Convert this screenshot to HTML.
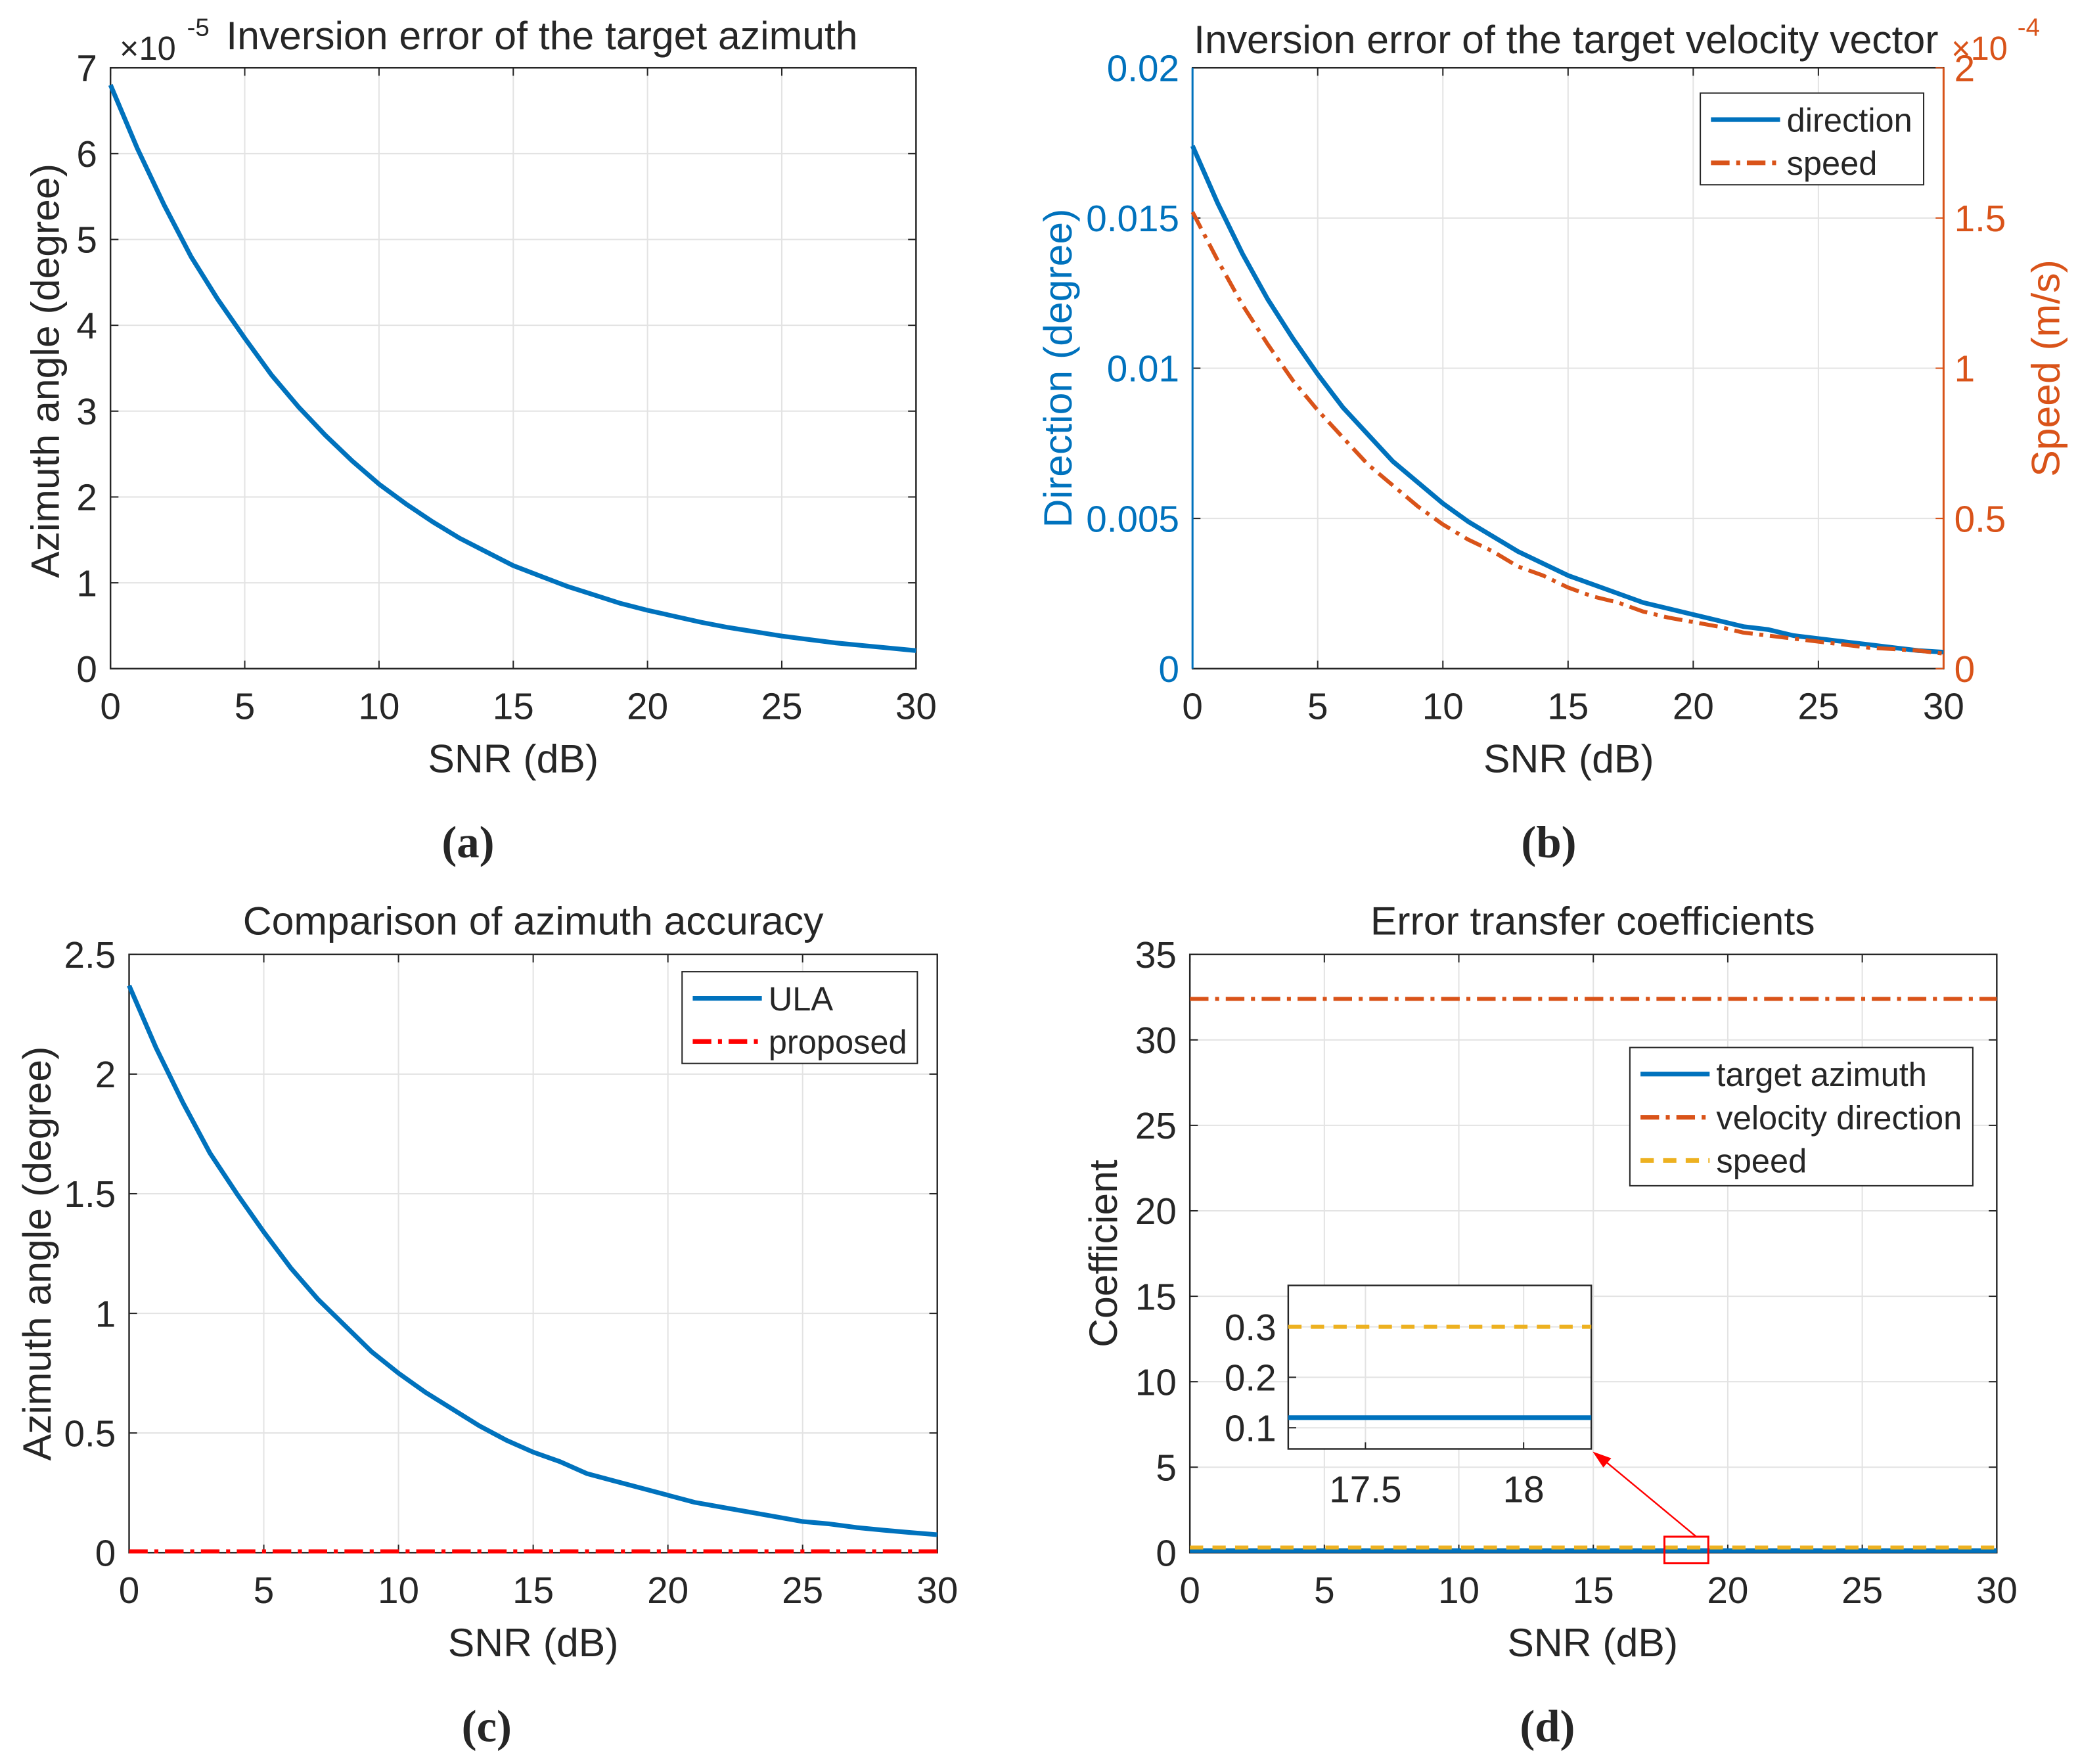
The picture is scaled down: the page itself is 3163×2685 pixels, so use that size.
<!DOCTYPE html>
<html><head><meta charset="utf-8"><style>
html,body{margin:0;padding:0;background:#fff}
svg{display:block}
text{font-family:"Liberation Sans",Arial,sans-serif;fill:#262626}
</style></head><body>
<svg id="s" width="3163" height="2685" viewBox="0 0 1563 1327" xmlns="http://www.w3.org/2000/svg">
<rect width="1563" height="1327" fill="#fff"/>
</svg>
<script>
const snr=[0,1,2,3,4,5,6,7,8,9,10,11,12,13,14,15,16,17,18,19,20,21,22,23,24,25,26,27,28,29,30];
const azimErr=[6.8,6.06,5.4,4.8,4.3,3.85,3.42,3.05,2.72,2.42,2.15,1.92,1.71,1.52,1.36,1.2,1.08,0.96,0.86,0.76,0.68,0.61,0.54,0.48,0.43,0.38,0.34,0.30,0.27,0.24,0.21];
const dirErr=[0.0174,0.0155,0.0138,0.0123,0.0110,0.0098,0.0087,0.0078,0.0069,0.0062,0.0055,0.0049,0.0044,0.0039,0.0035,0.0031,0.0028,0.0025,0.0022,0.0020,0.0018,0.0016,0.0014,0.0013,0.0011,0.0010,0.0009,0.0008,0.0007,0.0006,0.00055];
const speedErr=[1.52,1.36,1.21,1.08,0.96,0.86,0.77,0.68,0.61,0.54,0.48,0.43,0.39,0.34,0.31,0.27,0.24,0.22,0.19,0.17,0.155,0.14,0.12,0.11,0.10,0.09,0.08,0.07,0.065,0.06,0.05];
const ulaErr=[2.37,2.11,1.88,1.67,1.5,1.34,1.19,1.06,0.95,0.84,0.75,0.67,0.6,0.53,0.47,0.42,0.38,0.33,0.3,0.27,0.24,0.21,0.19,0.17,0.15,0.13,0.12,0.105,0.094,0.084,0.075];
const propErr=[0.005,0.005,0.005,0.005,0.005,0.005,0.005,0.005,0.005,0.005,0.005,0.005,0.005,0.005,0.005,0.005,0.005,0.005,0.005,0.005,0.005,0.005,0.005,0.005,0.005,0.005,0.005,0.005,0.005,0.005,0.005];
const coefX=[0,30];
const coefAzim=[0.12,0.12];
const coefVel=[32.4,32.4];
const coefSpeed=[0.3,0.3];
const xTicks=[0,5,10,15,20,25,30];
const ticksA=[0,1,2,3,4,5,6,7];
const ticksBL=[0,0.005,0.01,0.015,0.02];
const ticksBLlab=['0','0.005','0.01','0.015','0.02'];
const ticksBR=[0,0.5,1,1.5,2];
const ticksBRlab=['0','0.5','1','1.5','2'];
const ticksC=[0,0.5,1,1.5,2,2.5];
const ticksD=[0,5,10,15,20,25,30,35];
const insetX=[17.5,18];
const insetY=[0.1,0.2,0.3];
const BLUE='#0072BD',ORANGE='#D95319',YEL='#EDB120',RED='#FF0000';
const FT=28,FL=30;
const S=document.getElementById('s');
const NS='http://www.w3.org/2000/svg';
function el(tag,attrs,parent,txt){const e=document.createElementNS(NS,tag);for(const k in attrs)e.setAttribute(k,attrs[k]);if(txt!==undefined)e.textContent=txt;(parent||S).appendChild(e);return e;}
function grp(name){const g=document.createElementNS(NS,'g');


S.appendChild(g);return g;}
function lin(d0,d1,p0,p1){return v=>p0+(v-d0)/(d1-d0)*(p1-p0);}
function axes(name,x0,x1,y0,y1,sx,sy,xt,yt,ylab,opts){
 const g=grp(name);opts=opts||{};
 xt.forEach(v=>el('line',{x1:sx(v),x2:sx(v),y1:y0,y2:y1,stroke:'#e3e3e3','stroke-width':1},g));
 yt.forEach(v=>el('line',{x1:x0,x2:x1,y1:sy(v),y2:sy(v),stroke:'#e3e3e3','stroke-width':1},g));
 el('rect',{x:x0,y:y0,width:x1-x0,height:y1-y0,fill:'none',stroke:'#262626','stroke-width':1.2},g);
 xt.forEach(v=>{el('line',{x1:sx(v),x2:sx(v),y1:y1,y2:y1-6,stroke:'#262626'},g);el('line',{x1:sx(v),x2:sx(v),y1:y0,y2:y0+6,stroke:'#262626'},g);
  const t=el('text',{x:sx(v),y:y1+38,'font-size':FT,'text-anchor':'middle'},g,String(v));
  
  });
 yt.forEach((v,i)=>{el('line',{x1:x0,x2:x0+6,y1:sy(v),y2:sy(v),stroke:'#262626'},g);if(!opts.noRightTicks)el('line',{x1:x1,x2:x1-6,y1:sy(v),y2:sy(v),stroke:'#262626'},g);
  const t=el('text',{x:x0-10,y:sy(v)+10,'font-size':FT,'text-anchor':'end',style:opts.ycol?'fill:'+opts.ycol:''},g,ylab?ylab[i]:String(v));
  
  });
 return g;}
function path(g,xs,ys,sx,sy,col,dash,name,w){
 const d=xs.map((x,i)=>(i?'L':'M')+sx(x).toFixed(2)+' '+sy(ys[i]).toFixed(2)).join(' ');
 const p=el('path',{d:d,fill:'none',stroke:col,'stroke-width':w||3.5,'stroke-dasharray':dash||'none','stroke-linejoin':'round'},g);
 
 return p;}
function label(x,y,t,size,name,extra){const e=el('text',Object.assign({x:x,y:y,'font-size':size,'text-anchor':'middle'},extra||{}),S,t);
 
 return e;}
function legend(name,x,y,w,h,items){const g=grp(name);
 el('rect',{x:x,y:y,width:w,height:h,fill:'#fff',stroke:'#262626','stroke-width':1},g);
 items.forEach((it,i)=>{const yy=y+20+i*32.5;
  el('line',{x1:x+8,x2:x+60,y1:yy,y2:yy,stroke:it.c,'stroke-width':3.5,'stroke-dasharray':it.d||'none'},g);
  const t=el('text',{x:x+65,y:yy+9,'font-size':25},g,it.t);
  
  });}
const DD='14 5 3 5';
// (a)
let sxA=lin(0,30,83,689),syA=lin(0,7,503,51);
let gA=axes('panel-a-axes',83,689,51,503,sxA,syA,xTicks,ticksA);
path(gA,snr,azimErr,sxA,syA,BLUE,null,'azimuth-error-line');
label(170,37,'Inversion error of the target azimuth',FL,'panel-a-title',{'text-anchor':'start'});
label(111,45,'×10',25,'panel-a-exponent');label(149,27,'-5',19,'panel-a-exponent-power');
label(386,581,'SNR (dB)',FL,'panel-a-x-title');
label(44,279,'Azimuth angle (degree)',FL,'panel-a-y-title',{transform:'rotate(-90 44 279)'});
label(352,645,'(a)',34,'panel-a-label',{style:'font-family:"Liberation Serif",serif;font-weight:bold'});
// (b)
let sxB=lin(0,30,897,1462),syBL=lin(0,0.02,503,51),syBR=lin(0,2,503,51);
let gB=axes('panel-b-axes',897,1462,51,503,sxB,syBL,xTicks,ticksBL,ticksBLlab,{ycol:BLUE,noRightTicks:true});
el('line',{x1:1462,x2:1462,y1:51,y2:503,stroke:ORANGE,'stroke-width':1.5},gB);
el('line',{x1:897,x2:897,y1:51,y2:503,stroke:BLUE,'stroke-width':1.5},gB);
ticksBR.forEach((v,i)=>{el('line',{x1:1462,x2:1456,y1:syBR(v),y2:syBR(v),stroke:ORANGE},gB);
 const t=el('text',{x:1470,y:syBR(v)+10,'font-size':FT,style:'fill:'+ORANGE},gB,ticksBRlab[i]);
 
 });
path(gB,snr,dirErr,sxB,syBL,BLUE,null,'direction-line');
path(gB,snr,speedErr,sxB,syBR,ORANGE,DD,'speed-line',3);
legend('panel-b-legend',1279,70,168,69,[{c:BLUE,t:'direction'},{c:ORANGE,t:'speed',d:DD}]);
label(1178,40,'Inversion error of the target velocity vector',FL,'panel-b-title');
label(1489,45,'×10',25,'panel-b-exponent',{style:'fill:'+ORANGE});label(1526,27,'-4',19,'panel-b-exponent-power',{style:'fill:'+ORANGE});
label(1180,581,'SNR (dB)',FL,'panel-b-x-title');
label(806,277,'Direction (degree)',FL,'panel-b-left-y-title',{transform:'rotate(-90 806 277)',style:'fill:'+BLUE});
label(1549,277,'Speed (m/s)',FL,'panel-b-right-y-title',{transform:'rotate(-90 1549 277)',style:'fill:'+ORANGE});
label(1165,645,'(b)',34,'panel-b-label',{style:'font-family:"Liberation Serif",serif;font-weight:bold'});
// (c)
let sxC=lin(0,30,97,705),syC=lin(0,2.5,1168,718);
let gC=axes('panel-c-axes',97,705,718,1168,sxC,syC,xTicks,ticksC);
path(gC,snr,ulaErr,sxC,syC,BLUE,null,'ula-line');
path(gC,snr,propErr,sxC,syC,RED,DD,'proposed-line',3);
legend('panel-c-legend',513,731,177,69,[{c:BLUE,t:'ULA'},{c:RED,t:'proposed',d:DD}]);
label(401,703,'Comparison of azimuth accuracy',FL,'panel-c-title');
label(401,1246,'SNR (dB)',FL,'panel-c-x-title');
label(38,943,'Azimuth angle (degree)',FL,'panel-c-y-title',{transform:'rotate(-90 38 943)'});
label(366,1310,'(c)',34,'panel-c-label',{style:'font-family:"Liberation Serif",serif;font-weight:bold'});
// (d)
let sxD=lin(0,30,895,1502),syD=lin(0,35,1168,718);
let gD=axes('panel-d-axes',895,1502,718,1168,sxD,syD,xTicks,ticksD);
path(gD,coefX,coefAzim,sxD,syD,BLUE,null,'target-azimuth-line');
path(gD,coefX,coefVel,sxD,syD,ORANGE,DD,'velocity-direction-line',3);
path(gD,coefX,coefSpeed,sxD,syD,YEL,'10 7','speed-coef-line',3);
legend('panel-d-legend',1226,788,258,104,[{c:BLUE,t:'target azimuth'},{c:ORANGE,t:'velocity direction',d:DD},{c:YEL,t:'speed',d:'10 7'}]);
let gI=grp('inset-axes');
let sxI=lin(17.256,18.214,969,1197),syI=lin(0.058,0.382,1090,967);
el('rect',{x:969,y:967,width:228,height:123,fill:'#fff'},gI);
insetX.forEach(v=>el('line',{x1:sxI(v),x2:sxI(v),y1:967,y2:1090,stroke:'#e3e3e3'},gI));
insetY.forEach(v=>el('line',{x1:969,x2:1197,y1:syI(v),y2:syI(v),stroke:'#e3e3e3'},gI));
el('rect',{x:969,y:967,width:228,height:123,fill:'none',stroke:'#262626','stroke-width':1.2},gI);
insetX.forEach(v=>{el('line',{x1:sxI(v),x2:sxI(v),y1:1090,y2:1085,stroke:'#262626'},gI);const t=el('text',{x:sxI(v),y:1130,'font-size':FT,'text-anchor':'middle'},gI,String(v));
 
 });
insetY.forEach(v=>{el('line',{x1:969,x2:975,y1:syI(v),y2:syI(v),stroke:'#262626'},gI);const t=el('text',{x:960,y:syI(v)+10,'font-size':FT,'text-anchor':'end'},gI,String(v));
 
 });
path(gI,[17.256,18.214],[coefAzim[0],coefAzim[1]],sxI,syI,BLUE,null,'inset-azimuth-line');
path(gI,[17.256,18.214],[coefSpeed[0],coefSpeed[1]],sxI,syI,YEL,'10 7','inset-speed-line',3);
let gZ=grp('zoom-indicator');
el('rect',{x:1252,y:1156,width:33,height:20,fill:'none',stroke:RED,'stroke-width':1.5},gZ);
el('line',{x1:1276,x2:1206,y1:1156,y2:1098,stroke:RED,'stroke-width':1.2},gZ);
el('path',{d:'M1198 1092 L1212 1097 L1206 1104 Z',fill:RED},gZ);
label(1198,703,'Error transfer coefficients',FL,'panel-d-title');
label(1198,1246,'SNR (dB)',FL,'panel-d-x-title');
label(840,943,'Coefficient',FL,'panel-d-y-title',{transform:'rotate(-90 840 943)'});
label(1164,1310,'(d)',34,'panel-d-label',{style:'font-family:"Liberation Serif",serif;font-weight:bold'});
</script>
</body></html>
